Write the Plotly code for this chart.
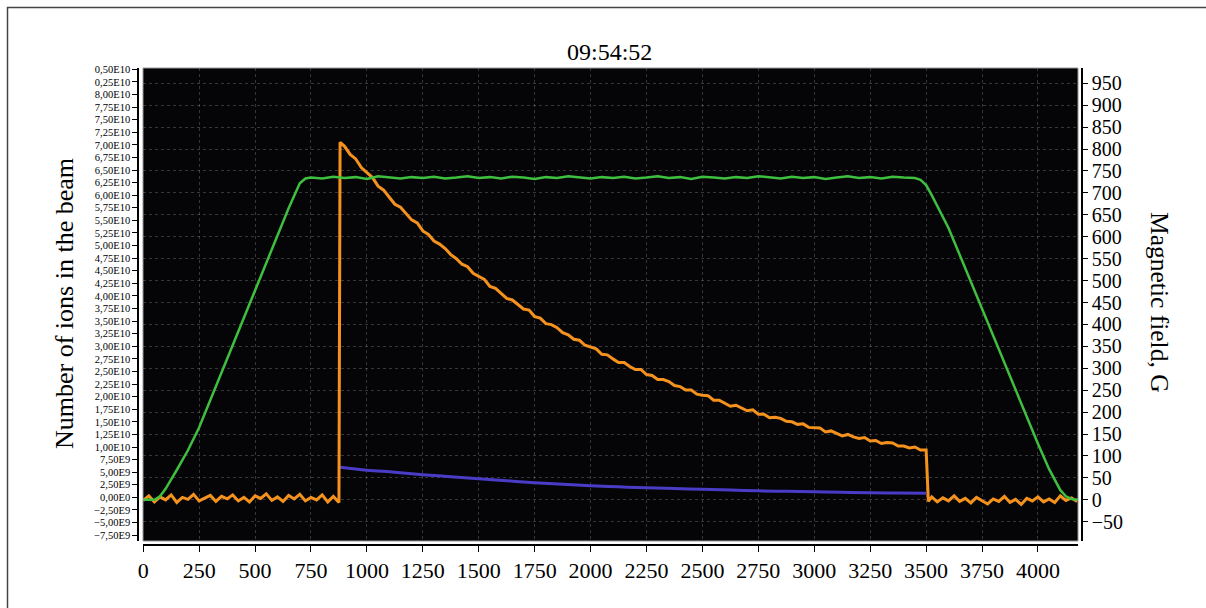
import plotly.graph_objects as go

# ---------------- data ----------------
# Magnetic field, G (right axis)
field_t_rise = [0, 50, 75, 100, 150, 200, 250, 300, 350, 400, 450, 500, 550, 600, 650, 700, 725]
field_g_rise = [0, 0, 8, 25, 68, 113, 165, 227, 290, 352, 415, 478, 540, 603, 665, 722, 733]
field_t_flat = list(range(750, 3451, 50))
field_g_flat = [735, 733, 737, 734, 736, 732, 738, 735, 733, 736,
                734, 737, 733, 735, 738, 734, 736, 733, 737, 735,
                732, 736, 734, 738, 735, 733, 736, 734, 737, 733,
                735, 738, 734, 736, 732, 737, 735, 733, 736, 734,
                738, 735, 733, 737, 734, 736, 732, 735, 738, 734,
                736, 733, 737, 735, 734]
field_t_fall = [3475, 3500, 3525, 3550, 3600, 3650, 3700, 3750, 3800, 3850,
                3900, 3950, 4000, 4050, 4100, 4125, 4150, 4180]
field_g_fall = [730, 718, 695, 670, 620, 559, 497, 436, 374, 313,
                251, 190, 128, 70, 22, 8, 2, 0]

# Number of ions in the beam, units of 1E10 (left axis)
ions_t_pre = list(range(0, 876, 25))
ions_pre = [-0.06, 0.03, -0.09, 0.01, -0.05, 0.05, -0.10, 0.00, -0.04, 0.06,
            -0.07, -0.02, 0.04, -0.08, 0.02, -0.03, 0.05, -0.07, 0.00, -0.09,
            0.03, -0.02, 0.07, -0.06, 0.01, -0.08, 0.04, -0.03, 0.06, -0.07,
            0.00, -0.05, 0.05, -0.09, 0.02, -0.10]
ions_t_beam = [880] + list(range(900, 3501, 25))
ions_beam = [7.05,
             6.97, 6.81, 6.72, 6.55, 6.45, 6.35, 6.18, 6.10, 5.96, 5.82,
             5.76, 5.63, 5.51, 5.45, 5.29, 5.22, 5.09, 5.03, 4.94, 4.82,
             4.74, 4.63, 4.58, 4.45, 4.39, 4.33, 4.19, 4.15, 4.05, 3.95,
             3.92, 3.83, 3.74, 3.72, 3.59, 3.56, 3.45, 3.43, 3.37, 3.27,
             3.23, 3.14, 3.12, 3.02, 2.99, 2.95, 2.84, 2.83, 2.75, 2.68,
             2.68, 2.60, 2.54, 2.54, 2.44, 2.42, 2.34, 2.34, 2.30, 2.22,
             2.20, 2.13, 2.13, 2.05, 2.03, 2.02, 1.93, 1.93, 1.87, 1.81,
             1.83, 1.77, 1.72, 1.74, 1.65, 1.65, 1.58, 1.59, 1.57, 1.51,
             1.50, 1.45, 1.46, 1.39, 1.38, 1.38, 1.30, 1.32, 1.27, 1.22,
             1.25, 1.20, 1.17, 1.19, 1.12, 1.13, 1.07, 1.09, 1.08, 1.02,
             1.02, 0.98, 1.00, 0.94, 0.94]
ions_t_post = [3510] + list(range(3525, 4176, 25))
ions_post = [-0.08, 0.01, -0.09, -0.01, -0.07, 0.03, -0.08, -0.02, -0.11, 0.00,
             -0.06, -0.13, -0.03, -0.08, 0.02, -0.10, -0.04, -0.14, -0.02, -0.07,
             0.01, -0.09, -0.03, -0.10, 0.03, -0.06, -0.01, -0.08]

# Second (blue) signal, units of 1E10 (left axis)
blue_t = [880, 1000, 1125, 1250, 1375, 1500, 1625, 1750, 1875, 2000, 2125,
          2250, 2375, 2500, 2625, 2750, 2875, 3000, 3125, 3250, 3375, 3500]
blue_v = [0.60, 0.54, 0.50, 0.45, 0.41, 0.37, 0.33, 0.29, 0.26, 0.23, 0.21,
          0.19, 0.175, 0.16, 0.145, 0.13, 0.12, 0.11, 0.10, 0.09, 0.085, 0.08]

# tick labels
x_ticks = list(range(0, 4001, 250))
left_tickvals = [-0.75 + 0.25 * i for i in range(38)]
left_ticktext = ["−7,50E9", "−5,00E9", "−2,50E9", "0,00E0", "2,50E9", "5,00E9", "7,50E9",
                 "1,00E10", "1,25E10", "1,50E10", "1,75E10", "2,00E10", "2,25E10", "2,50E10",
                 "2,75E10", "3,00E10", "3,25E10", "3,50E10", "3,75E10", "4,00E10", "4,25E10",
                 "4,50E10", "4,75E10", "5,00E10", "5,25E10", "5,50E10", "5,75E10", "6,00E10",
                 "6,25E10", "6,50E10", "6,75E10", "7,00E10", "7,25E10", "7,50E10", "7,75E10",
                 "8,00E10", "0,25E10", "0,50E10"]
right_tickvals = list(range(-50, 951, 50))
right_ticktext = [("−" + str(-v)) if v < 0 else str(v) for v in right_tickvals]

title_text = "09:54:52"
left_title = "Number of ions in the beam"
right_title = "Magnetic field, G"

# ---------------- figure ----------------
FONT = "Liberation Serif"
W, H = 1206, 608
L, R, T, B = 138, 1082, 68, 545          # pixel extents of the axes frame
pw, ph = R - L, B - T


def px(x):
    return (x - L) / pw


def py(y):
    return (B - y) / ph


fig = go.Figure()
fig.add_trace(go.Scatter(x=field_t_rise + field_t_flat + field_t_fall,
                         y=field_g_rise + field_g_flat + field_g_fall,
                         mode="lines", yaxis="y2",
                         line=dict(color="#3fbf3f", width=2.5), showlegend=False))
fig.add_trace(go.Scatter(x=blue_t, y=blue_v, mode="lines", line_shape="spline",
                         line=dict(color="#4a3cc6", width=3), showlegend=False))
fig.add_trace(go.Scatter(x=ions_t_pre + ions_t_beam + ions_t_post,
                         y=ions_pre + ions_beam + ions_post,
                         mode="lines",
                         line=dict(color="#f5921e", width=3), showlegend=False))

grid = dict(showgrid=True, gridcolor="rgba(150,150,150,0.35)", gridwidth=1, griddash="dot")

fig.update_layout(
    width=W, height=H,
    margin=dict(l=L, r=W - R, t=T, b=H - B, pad=0),
    paper_bgcolor="white", plot_bgcolor="white",
    font=dict(family=FONT, color="black"),
    xaxis=dict(domain=[px(143), px(1078)], range=[-1, 4179], anchor="free", position=0,
               tickvals=x_ticks, ticks="outside", ticklen=6, tickcolor="black", tickwidth=1,
               showline=True, linecolor="black", linewidth=1.5, zeroline=False,
               tickfont=dict(size=22, family=FONT), **grid),
    yaxis=dict(domain=[py(541), 1], range=[-0.866, 8.526], anchor="free", position=0,
               tickvals=left_tickvals, ticktext=left_ticktext, ticks="outside", ticklen=5,
               tickcolor="black", showline=True, linecolor="black", linewidth=1.5,
               zeroline=False, showgrid=False, tickfont=dict(size=10.5, family=FONT)),
    yaxis2=dict(domain=[py(541), 1], range=[-93.9, 984.9], overlaying="y", side="right",
                anchor="free", position=1,
                tickvals=right_tickvals, ticktext=right_ticktext, ticks="outside", ticklen=5,
                tickcolor="black", showline=True, linecolor="black", linewidth=1.5,
                zeroline=False, tickfont=dict(size=20, family=FONT), **grid),
    shapes=[
        dict(type="rect", xref="paper", yref="paper", x0=px(143), x1=px(1078), y0=py(541), y1=1,
             fillcolor="#050508", line=dict(color="#9a9a9a", width=1), layer="below"),
        dict(type="rect", xref="paper", yref="paper", x0=px(7.5), x1=px(1230), y0=py(630), y1=py(7.5),
             fillcolor="rgba(0,0,0,0)", line=dict(color="#444444", width=1.5), layer="above"),
    ],
    annotations=[
        dict(text=title_text, xref="paper", yref="paper", x=px(609), y=py(52),
             showarrow=False, font=dict(size=24, family=FONT), xanchor="center", yanchor="middle"),
        dict(text=left_title, xref="paper", yref="paper", x=px(64), y=py(304),
             showarrow=False, textangle=-90, font=dict(size=26, family=FONT),
             xanchor="center", yanchor="middle"),
        dict(text=right_title, xref="paper", yref="paper", x=px(1160), y=py(302),
             showarrow=False, textangle=90, font=dict(size=25.5, family=FONT),
             xanchor="center", yanchor="middle"),
    ],
)

fig.write_html("out.html",
               config={"displayModeBar": False},
               post_script="document.body.style.margin='0px';document.body.style.overflow='hidden';")
